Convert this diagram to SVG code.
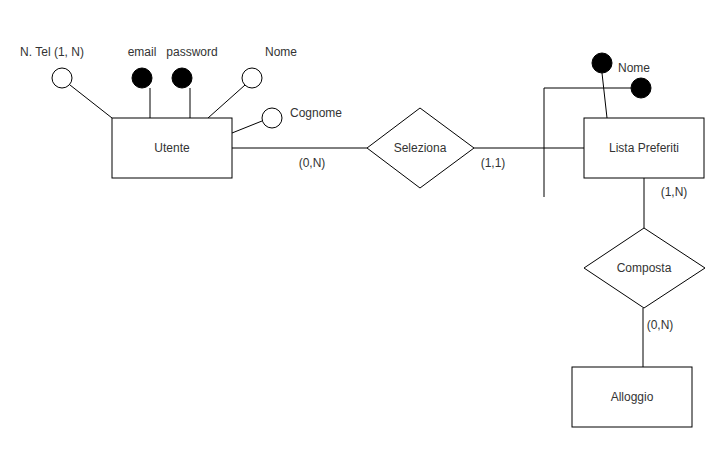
<svg xmlns="http://www.w3.org/2000/svg" width="727" height="459" viewBox="0 0 727 459">
<style>
.s{fill:#fff;stroke:#000;stroke-width:1}
.f{fill:#000;stroke:#000;stroke-width:1}
.l{fill:none;stroke:#000;stroke-width:1}
text{font-family:"Liberation Sans",Arial,sans-serif;font-size:12px;fill:#333}
.c{text-anchor:middle;dominant-baseline:central}
</style>
<rect width="727" height="459" fill="#fff"/>
<g id="connectors">
<line class="l" x1="70" y1="85" x2="112" y2="118"/>
<line class="l" x1="150" y1="88" x2="150" y2="118"/>
<line class="l" x1="190" y1="88" x2="190" y2="118"/>
<line class="l" x1="245" y1="85" x2="208" y2="118"/>
<line class="l" x1="262" y1="121" x2="232" y2="133"/>
<line class="l" x1="232" y1="148" x2="367" y2="148"/>
<line class="l" x1="474" y1="148" x2="584" y2="148"/>
<polyline class="l" points="544,197 544,88 631,88"/>
<line class="l" x1="602" y1="73" x2="607" y2="118"/>
<line class="l" x1="644" y1="178" x2="644" y2="228"/>
<line class="l" x1="643" y1="308" x2="643" y2="367"/>
</g>
<g id="utente"><rect class="s" x="112" y="118" width="120" height="60"/><text class="c" x="172" y="148">Utente</text></g>
<g id="attr-ntel"><circle class="s" cx="62" cy="78" r="10"/><text class="c" x="52" y="52">N. Tel (1, N)</text></g>
<g id="attr-email"><circle class="f" cx="142" cy="78" r="10"/><text class="c" x="142" y="52">email</text></g>
<g id="attr-password"><circle class="f" cx="182" cy="78" r="10"/><text class="c" x="192" y="52">password</text></g>
<g id="attr-nome"><circle class="s" cx="252" cy="78" r="10"/><text class="c" x="281" y="52">Nome</text></g>
<g id="attr-cognome"><circle class="s" cx="272" cy="118" r="10"/><text class="c" x="316" y="113">Cognome</text></g>
<g id="seleziona"><polygon class="s" points="420,108 474,148 420,188 367,148"/><text class="c" x="420" y="148">Seleziona</text></g>
<g id="lista"><rect class="s" x="584" y="118" width="120" height="60"/><text class="c" x="644" y="148">Lista Preferiti</text></g>
<g id="lista-nome"><circle class="f" cx="602" cy="63" r="10"/><circle class="f" cx="641" cy="88" r="10"/><text class="c" x="634" y="68">Nome</text></g>
<g id="composta"><polygon class="s" points="644,228 705,268 644,308 584,268"/><text class="c" x="644" y="268">Composta</text></g>
<g id="alloggio"><rect class="s" x="572" y="367" width="120" height="60"/><text class="c" x="632" y="397">Alloggio</text></g>
<g id="labels">
<text class="c" x="312" y="163">(0,N)</text>
<text class="c" x="493" y="163">(1,1)</text>
<text class="c" x="674" y="192">(1,N)</text>
<text class="c" x="660" y="325">(0,N)</text>
</g>
</svg>
